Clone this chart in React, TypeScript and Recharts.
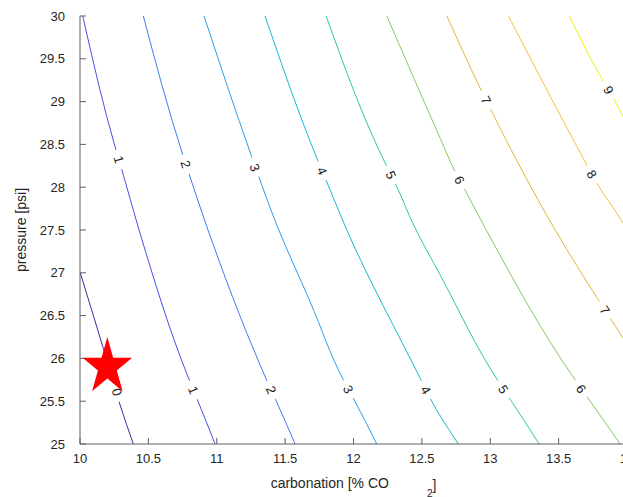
import { ComposedChart, Line, Scatter, XAxis, YAxis } from "recharts";

// axis ticks
const xTicks = [10, 10.5, 11, 11.5, 12, 12.5, 13, 13.5, 14];
const yTicks = [25, 25.5, 26, 26.5, 27, 27.5, 28, 28.5, 29, 29.5, 30];

// contour lines (carbonation, pressure)
const c0 = [
  { x: 10.0, y: 27.01 },
  { x: 10.17, y: 26.12 },
  { x: 10.293, y: 25.456 },
  { x: 10.39, y: 25.0 },
];
const c1 = [
  { x: 10.02, y: 30 },
  { x: 10.263, y: 28.435 },
  { x: 10.305, y: 28.209 },
  { x: 10.432, y: 27.5 },
  { x: 10.805, y: 25.724 },
  { x: 10.854, y: 25.534 },
  { x: 10.988, y: 25 },
];
const c2 = [
  { x: 10.463, y: 30 },
  { x: 10.756, y: 28.356 },
  { x: 10.792, y: 28.181 },
  { x: 10.936, y: 27.5 },
  { x: 11.317, y: 25.923 },
  { x: 11.37, y: 25.728 },
  { x: 11.426, y: 25.534 },
  { x: 11.573, y: 25 },
];
const c3 = [
  { x: 10.907, y: 30 },
  { x: 11.256, y: 28.356 },
  { x: 11.439, y: 27.558 },
  { x: 11.683, y: 26.662 },
  { x: 11.926, y: 25.748 },
  { x: 11.999, y: 25.534 },
  { x: 12.17, y: 25 },
];
const c4 = [
  { x: 11.353, y: 30 },
  { x: 11.743, y: 28.298 },
  { x: 11.799, y: 28.084 },
  { x: 11.951, y: 27.5 },
  { x: 12.5, y: 25.728 },
  { x: 12.56, y: 25.534 },
  { x: 12.767, y: 25 },
];
const c5 = [
  { x: 11.8, y: 30 },
  { x: 12.244, y: 28.24 },
  { x: 12.305, y: 28.046 },
  { x: 12.443, y: 27.547 },
  { x: 12.634, y: 26.974 },
  { x: 13.06, y: 25.728 },
  { x: 13.133, y: 25.553 },
  { x: 13.358, y: 25 },
];
const c6 = [
  { x: 12.244, y: 30 },
  { x: 12.634, y: 28.571 },
  { x: 12.743, y: 28.181 },
  { x: 12.809, y: 27.987 },
  { x: 12.963, y: 27.523 },
  { x: 13.621, y: 25.748 },
  { x: 13.707, y: 25.553 },
  { x: 13.95, y: 25 },
];
const c7 = [
  { x: 12.683, y: 30 },
  { x: 12.939, y: 29.116 },
  { x: 12.999, y: 28.922 },
  { x: 13.475, y: 27.5 },
  { x: 13.799, y: 26.662 },
  { x: 13.877, y: 26.468 },
  { x: 13.972, y: 26.238 },
  { x: 14.0, y: 26.17 },
];
const c8 = [
  { x: 13.133, y: 30 },
  { x: 13.707, y: 28.259 },
  { x: 13.78, y: 28.046 },
  { x: 13.972, y: 27.578 },
  { x: 14.0, y: 27.5 },
];
const c9 = [
  { x: 13.579, y: 30 },
  { x: 13.828, y: 29.232 },
  { x: 13.901, y: 29.039 },
  { x: 13.972, y: 28.824 },
  { x: 14.0, y: 28.75 },
];

const contours = [c0, c1, c2, c3, c4, c5, c6, c7, c8, c9];
const contourColors = [
  "#3b2ba5", "#4650e8", "#3e7af5", "#2c9ded", "#16b9d4",
  "#2ec7a8", "#84cb5c", "#e1b63a", "#fdbd3d", "#f2ee0c",
];

// inline contour labels: position, level, tilt in degrees
const contourLabels = [
  { x: 10.271, y: 25.607, level: 0, angle: 72 },
  { x: 10.284, y: 28.324, level: 1, angle: 75 },
  { x: 10.829, y: 25.631, level: 1, angle: 68 },
  { x: 10.774, y: 28.269, level: 2, angle: 72 },
  { x: 11.399, y: 25.631, level: 2, angle: 66 },
  { x: 11.278, y: 28.231, level: 3, angle: 70 },
  { x: 11.963, y: 25.64, level: 3, angle: 62 },
  { x: 11.772, y: 28.192, level: 4, angle: 68 },
  { x: 12.53, y: 25.631, level: 4, angle: 60 },
  { x: 12.274, y: 28.143, level: 5, angle: 66 },
  { x: 13.097, y: 25.64, level: 5, angle: 57 },
  { x: 12.776, y: 28.084, level: 6, angle: 64 },
  { x: 13.664, y: 25.645, level: 6, angle: 55 },
  { x: 12.969, y: 29.019, level: 7, angle: 63 },
  { x: 13.838, y: 26.565, level: 7, angle: 56 },
  { x: 13.743, y: 28.152, level: 8, angle: 59 },
  { x: 13.865, y: 29.136, level: 9, angle: 62 },
];

const operatingPoint = [{ x: 10.2, y: 25.9 }];

const FONT = "'Liberation Sans', Arial, Helvetica, sans-serif";
const AXIS = "#5e5e5e";
const TEXT = "#262626";

function ContourLabel(props: any) {
  const { cx, cy, payload } = props;
  return (
    <g transform={`translate(${cx},${cy}) rotate(${payload.angle})`}>
      <rect x={-10} y={-5} width={20} height={10} fill="#fff" />
      <text textAnchor="middle" dy="0.36em" fontSize={13} fill="#222" fontFamily={FONT}>
        {payload.level}
      </text>
    </g>
  );
}

function Pentagram(props: any) {
  const { cx, cy } = props;
  const pts: string[] = [];
  for (let i = 0; i < 10; i++) {
    const r = i % 2 === 0 ? 1 : 0.382;
    const a = -Math.PI / 2 + (i * Math.PI) / 5;
    pts.push(`${cx + 26 * r * Math.cos(a)},${cy + 30 * r * Math.sin(a)}`);
  }
  return <polygon points={pts.join(" ")} fill="#ff0000" />;
}

const xTitle = (props: any) => {
  const { x, y, width } = props.viewBox;
  return (
    <text x={x + width / 2} y={y + 44} textAnchor="middle" fontSize={14} fill={TEXT} fontFamily={FONT}>
      carbonation [% CO
      <tspan dx={38} dy={9} fontSize={10}>2</tspan>
      <tspan dy={-7} fontSize={14}>]</tspan>
    </text>
  );
};

const yTitle = (props: any) => {
  const { x, y, height } = props.viewBox;
  const cx = x + 26;
  const cy = y + height / 2;
  return (
    <text x={cx} y={cy} transform={`rotate(-90 ${cx} ${cy})`} textAnchor="middle" fontSize={14} fill={TEXT} fontFamily={FONT}>
      pressure [psi]
    </text>
  );
};

const noTick = () => <g />;

export default function App() {
  return (
    <div style={{ position: "absolute", left: 0, top: 0, width: 623, height: 497, overflow: "hidden", background: "#fff" }}>
      <ComposedChart width={660} height={497} margin={{ top: 16, right: 33, bottom: 0, left: 0 }}>
        <XAxis
          type="number"
          dataKey="x"
          domain={[10, 14]}
          ticks={xTicks}
          interval={0}
          allowDataOverflow
          height={53}
          stroke={AXIS}
          tickSize={-6}
          tickMargin={16}
          tick={{ fill: TEXT, fontSize: 13, fontFamily: FONT }}
          label={xTitle}
        />
        <XAxis
          xAxisId="top"
          orientation="top"
          type="number"
          domain={[10, 14]}
          ticks={xTicks}
          interval={0}
          allowDataOverflow
          height={0}
          stroke={AXIS}
          tickSize={-6}
          tick={noTick}
        />
        <YAxis
          type="number"
          dataKey="y"
          domain={[25, 30]}
          ticks={yTicks}
          interval={0}
          allowDataOverflow
          width={80}
          stroke={AXIS}
          tickSize={-6}
          tickMargin={21}
          tick={{ fill: TEXT, fontSize: 13, fontFamily: FONT }}
          label={yTitle}
        />
        <YAxis
          yAxisId="right"
          orientation="right"
          type="number"
          domain={[25, 30]}
          ticks={yTicks}
          interval={0}
          allowDataOverflow
          width={0}
          stroke={AXIS}
          tickSize={-6}
          tick={noTick}
        />
        {contours.map((c, i) => (
          <Line
            key={i}
            data={c}
            dataKey="y"
            type="monotoneY"
            stroke={contourColors[i]}
            strokeWidth={1}
            dot={false}
            isAnimationActive={false}
          />
        ))}
        <Scatter data={contourLabels} dataKey="y" shape={ContourLabel} isAnimationActive={false} />
        <Scatter data={operatingPoint} dataKey="y" shape={Pentagram} isAnimationActive={false} />
      </ComposedChart>
    </div>
  );
}
